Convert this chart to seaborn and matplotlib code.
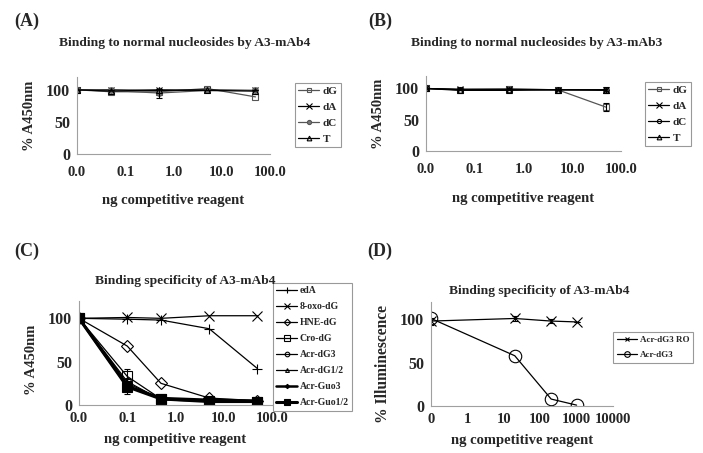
import numpy as np
import pandas as pd
import matplotlib
matplotlib.use("Agg")
import matplotlib.pyplot as plt
import seaborn as sns
from matplotlib.ticker import FixedLocator, FixedFormatter, NullLocator

# --------------------------------------------------
# DATA
# --------------------------------------------------

x_ab = [0.01, 0.05, 0.5, 5, 50]

a_dG = [100, 97, 97, 102, 89]
a_dA = [100, 100, 99, 100, 99]
a_dC = [100, 99, 95, 99, 99]
a_T = [100, 98, 100, 99, 98]
a_dC_err = [0, 0, 7, 0, 0]

b_dG = [100, 98, 99, 98, 70]
b_dA = [100, 99, 99, 98, 98]
b_dC = [100, 97, 97, 98, 98]
b_T = [100, 98, 98, 98, 97]
b_dG_err = [0, 0, 0, 0, 6]
b_dC_err = [0, 0, 0, 0, 5]

x_c = [0.01, 0.1, 0.5, 5, 50]

c_edA = [100, 99, 98, 88, 42]
c_oxo = [100, 101, 100, 103, 103]
c_hne = [100, 68, 25, 8, 5]
c_cro = [100, 33, 7, 5, 4]
c_acr3 = [100, 27, 6, 4, 4]
c_acr12 = [100, 25, 7, 5, 4]
c_guo3 = [100, 22, 8, 6, 5]
c_guo12 = [100, 21, 7, 4, 4]
c_cro_err = [0, 8.5, 0, 0, 0]
c_guo12_err = [0, 8.5, 0, 0, 0]

x_d = [0.1, 20, 200, 1000]

d_ro = [98, 101, 98, 97]
d_acr = [101, 58, 8, 1]
d_ro_err = [4, 3.4, 2, 0]

ab_ticks = [0.01, 0.1, 1, 10, 100]
ab_labels = ["0.0", "0.1", "1.0", "10.0", "100.0"]
d_ticks = [0.1, 1, 10, 100, 1000, 10000]
d_labels = ["0", "1", "10", "100", "1000", "10000"]

# --------------------------------------------------
# STYLE
# --------------------------------------------------

sns.set_theme(style="white")
plt.rcParams["font.family"] = ["Liberation Serif", "DejaVu Serif"]
plt.rcParams["font.weight"] = "bold"
plt.rcParams["axes.labelweight"] = "bold"

W, H = 703, 453
fig = plt.figure(figsize=(W / 100, H / 100), dpi=100)


def fx(px):
    return px / W


def fy(py):
    return 1 - py / H


def make_axes(left, top, right, bottom):
    return fig.add_axes([fx(left), fy(bottom), fx(right - left), (bottom - top) / H])


def style_axes(ax, ticks, labels, xlim, ylabel, ylsize=10.5):
    ax.set_xscale("log")
    ax.set_xlim(*xlim)
    ax.set_ylim(0, 120)
    ax.xaxis.set_major_locator(FixedLocator(ticks))
    ax.xaxis.set_major_formatter(FixedFormatter(labels))
    ax.xaxis.set_minor_locator(NullLocator())
    ax.set_yticks([0, 50, 100])
    for side in ["top", "right"]:
        ax.spines[side].set_visible(False)
    for side in ["left", "bottom"]:
        ax.spines[side].set_color("#a0a0a0")
        ax.spines[side].set_linewidth(0.8)
    ax.tick_params(axis="x", direction="in", length=3, color="#c0c0c0",
                   labelsize=10.5, pad=9)
    ax.tick_params(axis="y", direction="out", length=3, color="#a0a0a0",
                   labelsize=11.5, pad=2)
    ax.patch.set_alpha(0)
    ax.set_xlabel("ng competitive reagent", fontsize=10.5, fontweight="bold")
    ax.set_ylabel(ylabel, fontsize=ylsize, fontweight="bold")


def draw(ax, x, y, label, marker, ms, mfc="none", color="black", lw=0.9):
    sns.lineplot(x=x, y=y, ax=ax, label=label, marker=marker,
                 markersize=ms, markerfacecolor=mfc, markeredgecolor=color,
                 markeredgewidth=0.8, color=color, linewidth=lw)


def err(ax, x, y, e, color="black"):
    ax.errorbar(x, y, yerr=e, fmt="none", ecolor=color, elinewidth=0.8,
                capsize=2.5, capthick=0.8)


def legend(ax, left, top, size, spacing, hl, bp, scale):
    leg = ax.legend(loc="upper left", bbox_to_anchor=(fx(left), fy(top)),
                    bbox_transform=fig.transFigure, frameon=True,
                    fancybox=False, edgecolor="#808080", fontsize=size,
                    handlelength=hl, labelspacing=spacing, borderpad=bp,
                    handletextpad=0.3, borderaxespad=0, markerscale=scale)
    leg.get_frame().set_linewidth(0.8)
    return leg


# --------------------------------------------------
# PANEL A
# --------------------------------------------------

ax_a = make_axes(77, 77, 270, 154)
draw(ax_a, x_ab, a_dG, "dG", "s", 4.5, color="#555555")
draw(ax_a, x_ab, a_dA, "dA", "x", 5)
draw(ax_a, x_ab, a_dC, "dC", "o", 4, mfc="#777777", color="#555555")
draw(ax_a, x_ab, a_T, "T", "^", 4.5)
err(ax_a, x_ab, a_dC, a_dC_err)
style_axes(ax_a, ab_ticks, ab_labels, (0.01, 100), "% A450nm")
ax_a.xaxis.set_label_coords(0.5, -0.52)
ax_a.yaxis.set_label_coords(-0.21, 0.5)
legend(ax_a, 295, 83, 8, 0.55, 1.9, 0.3, 0.75)

# --------------------------------------------------
# PANEL B
# --------------------------------------------------

ax_b = make_axes(426, 76, 621, 151)
draw(ax_b, x_ab, b_dG, "dG", "s", 4.5, color="#555555")
draw(ax_b, x_ab, b_dA, "dA", "x", 5)
draw(ax_b, x_ab, b_dC, "dC", "o", 4)
draw(ax_b, x_ab, b_T, "T", "^", 4.5)
err(ax_b, x_ab, b_dG, b_dG_err)
err(ax_b, x_ab, b_dC, b_dC_err)
style_axes(ax_b, ab_ticks, ab_labels, (0.01, 100), "% A450nm")
ax_b.xaxis.set_label_coords(0.5, -0.55)
ax_b.yaxis.set_label_coords(-0.21, 0.5)
legend(ax_b, 645, 82, 8, 0.55, 1.9, 0.3, 0.75)

# --------------------------------------------------
# PANEL C
# --------------------------------------------------

ax_c = make_axes(79, 301, 272, 405)
draw(ax_c, x_c, c_edA, "edA", "+", 7)
draw(ax_c, x_c, c_oxo, "8-oxo-dG", "x", 7)
draw(ax_c, x_c, c_hne, "HNE-dG", "D", 6)
draw(ax_c, x_c, c_cro, "Cro-dG", "s", 7)
draw(ax_c, x_c, c_acr3, "Acr-dG3", "o", 6)
draw(ax_c, x_c, c_acr12, "Acr-dG1/2", "^", 5)
draw(ax_c, x_c, c_guo3, "Acr-Guo3", "D", 4, mfc="black", lw=1.8)
draw(ax_c, x_c, c_guo12, "Acr-Guo1/2", "s", 7, mfc="black", lw=2.2)
err(ax_c, x_c, c_cro, c_cro_err)
err(ax_c, x_c, c_guo12, c_guo12_err)
style_axes(ax_c, ab_ticks, ab_labels, (0.01, 100), "% A450nm")
ax_c.tick_params(axis="x", pad=5)
ax_c.xaxis.set_label_coords(0.5, -0.27)
ax_c.yaxis.set_label_coords(-0.21, 0.43)
legend(ax_c, 273, 283, 7, 0.72, 2.1, 0.35, 0.55)

# --------------------------------------------------
# PANEL D
# --------------------------------------------------

ax_d = make_axes(431, 302, 613, 406)
draw(ax_d, x_d, d_ro, "Acr-dG3 RO", "x", 7)
draw(ax_d, x_d, d_acr, "Acr-dG3", "o", 9)
err(ax_d, x_d, d_ro, d_ro_err)
style_axes(ax_d, d_ticks, d_labels, (0.1, 10000), "% Illuminescence",
           ylsize=11.2)
ax_d.tick_params(axis="x", pad=5)
ax_d.xaxis.set_label_coords(0.5, -0.27)
ax_d.yaxis.set_label_coords(-0.22, 0.4)
legend(ax_d, 613, 332, 6.5, 0.8, 2.3, 0.4, 0.45)

# --------------------------------------------------
# TITLES AND PANEL LABELS
# --------------------------------------------------

fig.text(fx(185), fy(43), "Binding to normal nucleosides by A3-mAb4",
         ha="center", va="center", fontsize=9.7, fontweight="bold")
fig.text(fx(537), fy(43), "Binding to normal nucleosides by A3-mAb3",
         ha="center", va="center", fontsize=9.7, fontweight="bold")
fig.text(fx(185), fy(281), "Binding specificity of A3-mAb4",
         ha="center", va="center", fontsize=9.7, fontweight="bold")
fig.text(fx(539), fy(291), "Binding specificity of A3-mAb4",
         ha="center", va="center", fontsize=9.7, fontweight="bold")

for lab, px, py in [("(A)", 27, 21), ("(B)", 380, 21),
                    ("(C)", 27, 251), ("(D)", 380, 251)]:
    fig.text(fx(px), fy(py), lab, ha="center", va="center",
             fontsize=13, fontweight="bold")

fig.savefig("out.png", dpi=100)
